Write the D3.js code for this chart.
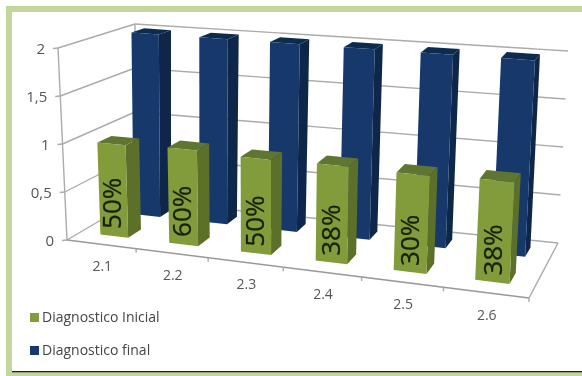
<!DOCTYPE html>
<html><head><meta charset="utf-8">
<script src="https://cdnjs.cloudflare.com/ajax/libs/d3/7.8.5/d3.min.js"></script>
<style>html,body{margin:0;padding:0;background:#fff}svg{display:block}</style>
</head><body><svg id="c" width="582" height="376"></svg>
<script>
const categories = ["2.1","2.2","2.3","2.4","2.5","2.6"];
const inicial = [0.97,0.99,0.97,0.98,0.97,0.99];
const final_ = [2,2,2,2,2,2];
const pctLabels = ["50%","60%","50%","38%","30%","38%"];
const yTicks = [0,0.5,1,1.5,2];
const yTickLabels = ["0","0,5","1","1,5","2"];
const seriesNames = ["Diagnostico Inicial","Diagnostico final"];

const svg = d3.select("#c");
const W=582,H=376;
svg.append("defs").append("filter").attr("id","soft").append("feGaussianBlur").attr("stdDeviation",0.55);

// frame
svg.append("rect").attr("width",W).attr("height",H).attr("fill","#fff");
const frame="#c3d69b";
svg.append("rect").attr("x",6).attr("y",6).attr("width",W-6).attr("height",6).attr("fill",frame);
svg.append("rect").attr("x",6).attr("y",6).attr("width",6).attr("height",H-6).attr("fill",frame);
svg.append("rect").attr("x",6).attr("y",372).attr("width",W-6).attr("height",4).attr("fill",frame);
svg.append("rect").attr("x",12).attr("y",371).attr("width",W-12).attr("height",1.3).attr("fill","#222");

const g = svg.append("g").attr("filter","url(#soft)");

// projection: corners of the 3D box [u,v,h]
const box = {
  fl0:[67,240], fl1:[58,48], bl0:[135,200], bl1:[135,24],
  fr0:[529,298], fr1:[541,88], br0:[558,243], br1:[568,51]
};
const lerp=(a,b,t)=>[a[0]+(b[0]-a[0])*t,a[1]+(b[1]-a[1])*t];
const yScale=d3.scaleLinear().domain([0,2]).range([0,1]);
const warp=u=>u*(1-0.12)/(1-0.12*u);
const band=d3.scaleBand().domain(categories).range([0,1]);
function P(u,v,val){
  const h=yScale(val), w=warp(u);
  const l=lerp(lerp(box.fl0,box.fl1,h),lerp(box.bl0,box.bl1,h),v);
  const r=lerp(lerp(box.fr0,box.fr1,h),lerp(box.br0,box.br1,h),v);
  return lerp(l,r,w);
}
const line=d3.line();
const poly=pts=>line(pts)+"Z";
const gridC="#ababab";
const seg=(a,b,w=1.4,c=gridC)=>g.append("line").attr("x1",a[0]).attr("y1",a[1]).attr("x2",b[0]).attr("y2",b[1]).attr("stroke",c).attr("stroke-width",w);

// gridlines on walls
yTicks.forEach((t,i)=>{
  seg(P(0,0,t),P(0,1,t));
  seg(P(0,1,t),P(1,1,t));
  const p=P(0,0,t);
  seg([p[0]-5,p[1]+0.5],p);
  g.append("text").attr("x",p[0]-13).attr("y",p[1]+6).attr("text-anchor","end")
    .attr("font-family","Open Sans").attr("font-size",15).attr("fill","#555").text(yTickLabels[i]);
});
seg(P(0,0,0),P(0,0,2));
seg(P(0,1,0),P(0,1,2));
seg(P(0,0,0),P(1,0,0),1.6,"#999");
seg(P(1,0,0),P(1,1,0));

// category ticks and labels
d3.range(1,categories.length+1).forEach(i=>{
  const p=P(i/categories.length,0,0);
  seg(p,[p[0],p[1]+4]);
});
categories.forEach(c=>{
  const p=P(band(c)+band.bandwidth()/2,0,0);
  g.append("text").attr("x",p[0]+1).attr("y",p[1]+27).attr("text-anchor","middle")
   .attr("font-family","Open Sans").attr("font-size",14).attr("fill","#555").text(c);
});

function bar(cat,val,v0,v1,cols){
  const c=band(cat)+band.bandwidth()/2, hw=0.034;
  const u0=c-hw,u1=c+hw;
  const bg=g.append("g");
  bg.append("path").attr("d",poly([P(u0,v0,val),P(u1,v0,val),P(u1,v1,val),P(u0,v1,val)])).attr("fill",cols[2]);
  bg.append("path").attr("d",poly([P(u1,v0,0),P(u1,v1,0),P(u1,v1,val),P(u1,v0,val)])).attr("fill",cols[1]);
  bg.append("path").attr("d",poly([P(u0,v0,0),P(u1,v0,0),P(u1,v0,val),P(u0,v0,val)])).attr("fill",cols[0]);
}
const blue=["#17396b","#0d2749","#0f2b50"], green=["#829b3a","#5c7029","#5f7530"];
categories.forEach((c,i)=>bar(c,final_[i],0.70,0.87,blue));
categories.forEach((c,i)=>bar(c,inicial[i],0.20,0.40,green));
categories.forEach((c,i)=>{
  const u=band(c)+band.bandwidth()/2;
  const m=P(u,0.2,inicial[i]*(0.36-0.05*u));
  g.append("text").attr("transform",`translate(${m[0]+8},${m[1]}) rotate(-90)`)
   .attr("text-anchor","middle").attr("font-family","Open Sans").attr("font-size",26)
   .attr("stroke","#16200c").attr("stroke-width",0.3)
   .attr("fill","#16200c").text(pctLabels[i]);
});

// legend
[[green[0],313],[blue[0],346]].forEach((d,i)=>{
  g.append("rect").attr("x",30).attr("y",d[1]).attr("width",9).attr("height",9).attr("fill",d[0]);
  g.append("text").attr("x",42).attr("y",d[1]+9).attr("font-family","Open Sans").attr("font-size",14)
   .attr("fill","#444").text(seriesNames[i]);
});
</script></body></html>
